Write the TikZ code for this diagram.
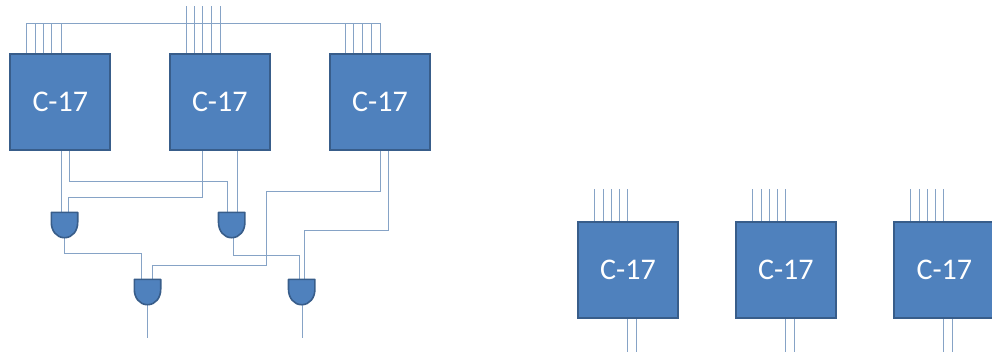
\documentclass[tikz,border=0pt]{standalone}
\usepackage{fontspec}
\setmainfont{Carlito}
\usetikzlibrary{calc}
\definecolor{boxfill}{HTML}{4F81BD}
\definecolor{boxline}{HTML}{385D8A}
\definecolor{wirecol}{HTML}{86A3C6}
\tikzset{
  chip/.style={rectangle,draw=boxline,fill=boxfill,line width=2pt,minimum width=100pt,minimum height=96pt,inner sep=0pt,text=white,font=\fontsize{30}{30}\selectfont},
  gatebox/.style={rectangle,inner sep=0pt,minimum width=26pt,minimum height=25pt},
  gatebody/.style={draw=boxline,fill=boxfill,line width=1.6pt,line join=round},
  wire/.style={draw=wirecol,line width=1.3pt,line join=miter}
}
\newcommand{\gateshape}[1]{%
  \path[gatebody] (#1.north west) -- (#1.north east) -- ($(#1.north east)+(0,10)$)
    .. controls ($(#1.south east)+(0,-7)$) and ($(#1.south)+(8,0)$) .. (#1.south)
    .. controls ($(#1.south)+(-8,0)$) and ($(#1.south west)+(0,-7)$) .. ($(#1.north west)+(0,10)$) -- cycle;}
\begin{document}
\begin{tikzpicture}[x=1pt,y=-1pt]
\useasboundingbox (0,0) rectangle (992,360);
\clip (0,0) rectangle (992,360);
% named points
\coordinate (bus) at (26.5,23.5);
\foreach \n/\x in {a1/26.5,a2/35.5,a3/43.5,a4/51.5,a5/61.5,c1/345.5,c2/353.5,c3/362.5,c4/371.5,c5/380.5}{\coordinate (\n) at (\x,53);}
\foreach \n/\x in {b1/186.5,b2/194.5,b3/202.5,b4/211.5,b5/220.5}{\coordinate (\n) at (\x,53);\coordinate (\n t) at (\x,6);}
\foreach \n/\x in {d1/594.5,d2/603.5,d3/611.5,d4/619.5,d5/627.5,e1/752.5,e2/761.5,e3/769.5,e4/777.5,e5/785.5,f1/910.5,f2/919.5,f3/927.5,f4/935.5,f5/943.5}{\coordinate (\n) at (\x,221);\coordinate (\n t) at (\x,189);}
\foreach \n/\x in {do1/627.5,do2/636.5,eo1/785.5,eo2/794.5,fo1/943.5,fo2/952.5}{\coordinate (\n) at (\x,319);\coordinate (\n e) at (\x,351.5);}
\coordinate (ao1) at (61.5,150);\coordinate (ao2) at (69.5,150);
\coordinate (bo1) at (202.5,150);\coordinate (bo2) at (237.5,150);
\coordinate (co1) at (380.5,150);\coordinate (co2) at (388.5,150);
\coordinate (g1a) at (61.5,212);\coordinate (g1b) at (68.5,212);
\coordinate (g2a) at (227.5,212);\coordinate (g2b) at (237.5,212);
\coordinate (g3a) at (141.5,279);\coordinate (g3b) at (152.5,279);
\coordinate (g4a) at (299.5,279);\coordinate (g4b) at (304.5,279);
\coordinate (g1o) at (64.5,238);\coordinate (g2o) at (233.5,238);
\coordinate (g3o) at (147.5,305);\coordinate (g4o) at (302.5,305);
\coordinate (g3e) at (147.5,338);\coordinate (g4e) at (302.5,338);
% wires
\draw[wire] (a1) -- (bus) -- (bus -| c5) -- (c5);
\foreach \n in {a2,a3,a4,a5,c1,c2,c3,c4}{\draw[wire] (\n) -- (\n |- bus);}
\foreach \n in {b1,b2,b3,b4,b5}{\draw[wire] (\n t) -- (\n);}
\foreach \n in {d1,d2,d3,d4,d5,e1,e2,e3,e4,e5,f1,f2,f3,f4,f5}{\draw[wire] (\n t) -- (\n);}
\foreach \n in {do1,do2,eo1,eo2,fo1,fo2}{\draw[wire] (\n) -- (\n e);}
\draw[wire] (ao1) -- (g1a);
\draw[wire] (ao2) |- (227.5,181.5) -- (g2a);
\draw[wire] (bo1) |- (68.5,197.5) -- (g1b);
\draw[wire] (bo2) -- (g2b);
\draw[wire] (g1o) |- (141.5,253.5) -- (g3a);
\draw[wire] (g2o) |- (299.5,255.5) -- (g4a);
\draw[wire] (co1) |- (266.5,191.5) -- (266.5,265.5) -| (g3b);
\draw[wire] (co2) |- (304.5,230.5) -- (g4b);
\draw[wire] (g3o) -- (g3e);
\draw[wire] (g4o) -- (g4e);
% chips
\node[chip] (A) at (60.3,101.5) {C-17};
\node[chip] (B) at (219.8,101.5) {C-17};
\node[chip] (C) at (380,101.5) {C-17};
\node[chip] (D) at (628,270) {C-17};
\node[chip] (E) at (785.8,270) {C-17};
\node[chip] (F) at (944.3,270) {C-17};
% gates
\node[gatebox] (G1) at (64.5,225) {};
\node[gatebox] (G2) at (231.7,225) {};
\node[gatebox] (G3) at (147.5,292) {};
\node[gatebox] (G4) at (301.7,292) {};
\gateshape{G1}\gateshape{G2}\gateshape{G3}\gateshape{G4}
\end{tikzpicture}
\end{document}
